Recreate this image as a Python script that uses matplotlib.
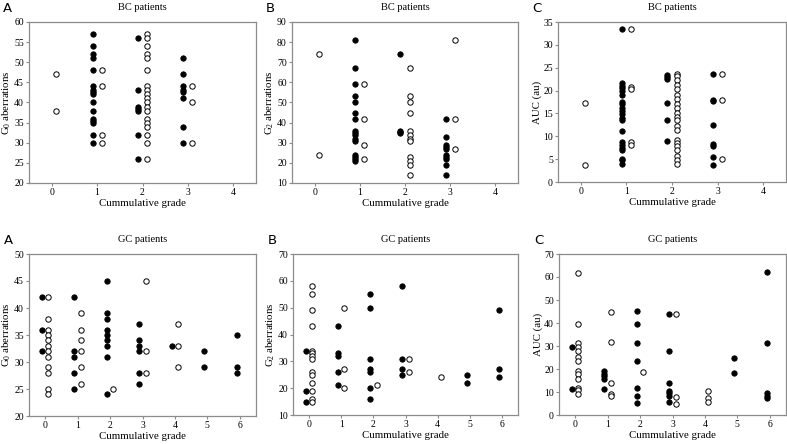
import matplotlib
matplotlib.use("Agg")
import matplotlib.pyplot as plt

# ---------------- data ----------------
# BC patients, G0 aberrations
bc_g0_filled = {1: [57, 54, 52, 51, 48, 44, 43, 42.5, 42, 40, 38, 36, 35.5, 35, 32, 30],
                2: [56, 43, 39, 38.5, 38, 32, 26],
                3: [51, 47, 44, 43, 42.5, 41, 34, 30]}
bc_g0_open = {0: [47, 38],
              1: [48, 44, 32, 30],
              2: [57, 56, 54, 52, 51, 48, 44, 43, 42, 41, 40, 39, 38, 36, 35, 34, 32, 30, 26],
              3: [44, 40, 30]}
# BC patients, G2 aberrations
bc_g2_filled = {1: [81, 67, 59, 53, 50, 45, 42, 36, 35, 34, 32, 31, 24, 23, 22, 21],
                2: [74, 36, 35.5, 35],
                3: [42, 33, 29, 28, 27, 24, 23, 22, 19, 14]}
bc_g2_open = {0: [74, 24],
              1: [59, 42, 29, 22],
              2: [67, 53, 50, 45, 36, 34, 32, 31, 23, 21, 19, 14],
              3: [81, 42, 27]}
# BC patients, AUC
bc_auc_filled = {1: [33.4, 21.7, 21.0, 20.5, 20.0, 19.0, 17.5, 17.0, 16.2, 15.5, 14.8,
                     14.0, 13.5, 11.1, 8.7, 8.0, 7.4, 7.0, 5.1, 4.8, 4.0],
                 2: [23.5, 23.0, 22.6, 17.3, 13.6, 9.0],
                 3: [23.6, 18.0, 17.8, 12.5, 8.3, 7.9, 5.5, 3.8]}
bc_auc_open = {0: [17.3, 3.8],
               1: [33.4, 20.8, 20.3, 8.7, 8.0],
               2: [23.6, 23.1, 22.3, 21.2, 20.3, 19.0, 18.2, 17.1, 16.1, 15.0, 14.2,
                   13.5, 12.3, 11.3, 9.2, 8.5, 7.8, 7.0, 5.7, 4.9, 4.0],
               3: [23.6, 17.9, 5.0]}
# GC patients, G0 aberrations
gc_g0_filled = {0: [42, 36, 32],
                1: [42, 32, 31, 28, 25],
                2: [45, 39, 38, 36, 35, 34, 33, 31, 24],
                3: [37, 34, 33, 32, 28, 26],
                4: [33],
                5: [32, 29],
                6: [35, 29, 28]}
gc_g0_open = {0: [42, 38, 36, 35, 34, 33, 32, 31, 29, 28, 25, 24],
              1: [39, 36, 34, 32, 29, 26],
              2: [25],
              3: [45, 32, 28],
              4: [37, 33, 29]}
# GC patients, G2 aberrations
gc_g2_filled = {0: [34, 19, 15],
                1: [43, 33, 32, 26, 21],
                2: [55, 50, 31, 27, 26, 20, 16],
                3: [58, 31, 27, 25],
                5: [25, 22],
                6: [49, 27, 24]}
gc_g2_open = {0: [58, 55, 49, 43, 34, 33, 32, 31, 26, 25, 22, 19, 16, 15],
              1: [50, 27, 20],
              2: [21],
              3: [31, 26],
              4: [24]}
# GC patients, AUC
gc_auc_filled = {0: [29.6, 11.1],
                 1: [19.1, 17.7, 16.9, 15.8, 11.1],
                 2: [45.2, 39.6, 31.3, 23.4, 11.6, 8.2, 5.2],
                 3: [44.1, 27.8, 14.0, 10.4, 9.4, 8.2, 5.6],
                 5: [25.0, 18.4],
                 6: [62.0, 31.1, 9.4, 8.2, 7.2]}
gc_auc_open = {0: [61.8, 39.6, 31.3, 29.6, 27.8, 25.3, 23.4, 19.1, 17.7, 15.8, 11.9, 10.9, 9.0],
               1: [45.0, 31.6, 13.7, 9.0, 8.2],
               2: [18.8],
               3: [44.1, 7.8, 4.6],
               4: [10.4, 7.5, 5.6]}

bc_xticks = [0, 1, 2, 3, 4]
gc_xticks = [0, 1, 2, 3, 4, 5, 6]
xlabel = "Cummulative grade"
ylabels = ["G$_0$ aberrations", "G$_2$ aberrations", "AUC (au)"]
letters = ["A", "B", "C"]

# ---------------- figure ----------------
plt.rcParams['font.family'] = ['Liberation Serif', 'DejaVu Serif']
plt.rcParams['mathtext.fontset'] = 'custom'
plt.rcParams['mathtext.rm'] = 'Liberation Serif'
plt.rcParams['mathtext.it'] = 'Liberation Serif:italic'

fig = plt.figure(figsize=(7.87, 4.44), dpi=100)
W, H = 787.0, 444.0

def ax_at(l, r, t, b):
    return fig.add_axes([l / W, (H - b) / H, (r - l) / W, (b - t) / H])

top_boxes = [(29, 256, 22, 183), (292, 518, 22, 183), (558, 786, 22, 182)]
bot_boxes = [(29, 256, 254, 416), (293, 518, 254, 415), (559, 786, 254, 415)]

top_sets = [(bc_g0_filled, bc_g0_open, (20, 60), range(20, 61, 5)),
            (bc_g2_filled, bc_g2_open, (10, 90), range(10, 91, 10)),
            (bc_auc_filled, bc_auc_open, (0, 35), range(0, 36, 5))]
bot_sets = [(gc_g0_filled, gc_g0_open, (20, 50), range(20, 51, 5)),
            (gc_g2_filled, gc_g2_open, (10, 70), range(10, 71, 10)),
            (gc_auc_filled, gc_auc_open, (0, 70), range(0, 71, 10))]

off = 0.1
msz = 15
spine_col = '#8c8c8c'

def draw(ax, filled, opened, ylim, yticks, xticks, title, ylabel):
    for g, vals in filled.items():
        ax.scatter([g - off] * len(vals), vals, s=msz, c='black', edgecolors='black',
                   linewidths=0.6, zorder=3)
    for g, vals in opened.items():
        ax.scatter([g + off] * len(vals), vals, s=msz, facecolors='white', edgecolors='black',
                   linewidths=0.7, zorder=3)
    ax.set_xlim(-0.5, xticks[-1] + 0.5)
    ax.set_ylim(*ylim)
    ax.set_xticks(xticks)
    ax.set_yticks(list(yticks))
    ax.tick_params(direction='out', length=2.5, width=0.8, color=spine_col,
                   labelsize=7, pad=1.2)
    for sp in ax.spines.values():
        sp.set_color(spine_col)
        sp.set_linewidth(0.9)
    ax.set_xlabel(xlabel, fontsize=7.8, labelpad=1.5)
    ax.set_ylabel(ylabel, fontsize=7.8, labelpad=0.8)
    ax.set_title(title, fontsize=7.5, pad=9)

for i in range(3):
    ax = ax_at(*top_boxes[i])
    f, o, yl, yt = top_sets[i]
    draw(ax, f, o, yl, yt, bc_xticks, "BC patients", ylabels[i])
    fig.text((top_boxes[i][0] - 26) / W, 1 - 8 / H, letters[i], fontsize=9.5,
             family='DejaVu Sans', va='center', ha='left')

    ax = ax_at(*bot_boxes[i])
    f, o, yl, yt = bot_sets[i]
    draw(ax, f, o, yl, yt, gc_xticks, "GC patients", ylabels[i])
    fig.text((bot_boxes[i][0] - 25) / W, 1 - 240 / H, letters[i], fontsize=9.5,
             family='DejaVu Sans', va='center', ha='left')

fig.savefig("out.png", dpi=100)
